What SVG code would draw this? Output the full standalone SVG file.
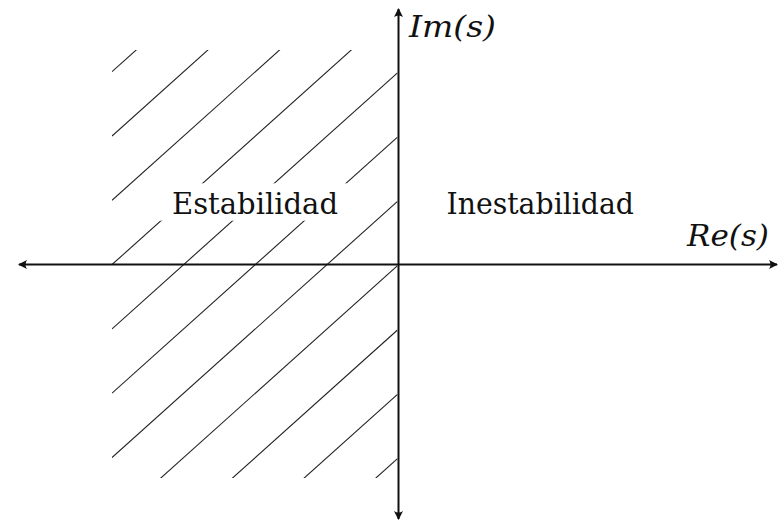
<svg xmlns="http://www.w3.org/2000/svg" width="780" height="522" viewBox="0 0 780 522">
  <style>
    .hatch { stroke: #222; stroke-width: 1.1; fill: none; }
    .axis { stroke: #111; stroke-width: 2; fill: none; }
    .lbl { font-family: "DejaVu Serif", "Liberation Serif", serif; font-size: 29px; fill: #111; }
    .it { font-style: italic; }
  </style>
  <defs>
    <marker id="arr" viewBox="-10 -6 12 12" markerWidth="12" markerHeight="12" refX="0" refY="0" orient="auto-start-reverse" markerUnits="userSpaceOnUse">
      <path d="M1,0 L-8,-4.5 Q-5,0 -8,4.5 Z" fill="#111"/>
    </marker>
    <clipPath id="hclip">
      <rect x="112" y="50" width="285.5" height="428"/>
    </clipPath>
  </defs>
  <rect width="780" height="522" fill="#fff"/>
  <g id="hatching" clip-path="url(#hclip)">
    <line class="hatch" x1="112" y1="71.7" x2="397.5" y2="-184.4"/>
    <line class="hatch" x1="112" y1="136" x2="397.5" y2="-120.1"/>
    <line class="hatch" x1="112" y1="200.3" x2="397.5" y2="-55.8"/>
    <line class="hatch" x1="112" y1="264.6" x2="397.5" y2="8.5"/>
    <line class="hatch" x1="112" y1="328.9" x2="397.5" y2="72.8"/>
    <line class="hatch" x1="112" y1="393.2" x2="397.5" y2="137.1"/>
    <line class="hatch" x1="112" y1="457.5" x2="397.5" y2="201.4"/>
    <line class="hatch" x1="112" y1="521.8" x2="397.5" y2="265.7"/>
    <line class="hatch" x1="112" y1="586.1" x2="397.5" y2="330"/>
    <line class="hatch" x1="112" y1="650.4" x2="397.5" y2="394.3"/>
    <line class="hatch" x1="112" y1="714.7" x2="397.5" y2="458.6"/>
  </g>
  <g id="stable">
    <rect x="158" y="183.3" width="192" height="37.4" fill="#fff"/>
    <text class="lbl" x="172" y="214.3" textLength="166" lengthAdjust="spacingAndGlyphs">Estabilidad</text>
  </g>
  <g id="unstable">
    <text class="lbl" x="446.5" y="214.3" textLength="187.5" lengthAdjust="spacingAndGlyphs">Inestabilidad</text>
  </g>
  <g id="connectors">
    <line id="re-axis" class="axis" x1="19" y1="264.5" x2="777" y2="264.5" marker-start="url(#arr)" marker-end="url(#arr)"/>
    <line id="im-axis" class="axis" x1="398.5" y1="9" x2="398.5" y2="519" marker-start="url(#arr)" marker-end="url(#arr)"/>
  </g>
  <g id="re-label">
    <text class="lbl it" x="687" y="246" textLength="82" lengthAdjust="spacingAndGlyphs">Re(s)</text>
  </g>
  <g id="im-label">
    <text class="lbl it" x="409" y="37" textLength="87" lengthAdjust="spacingAndGlyphs">Im(s)</text>
  </g>
</svg>
